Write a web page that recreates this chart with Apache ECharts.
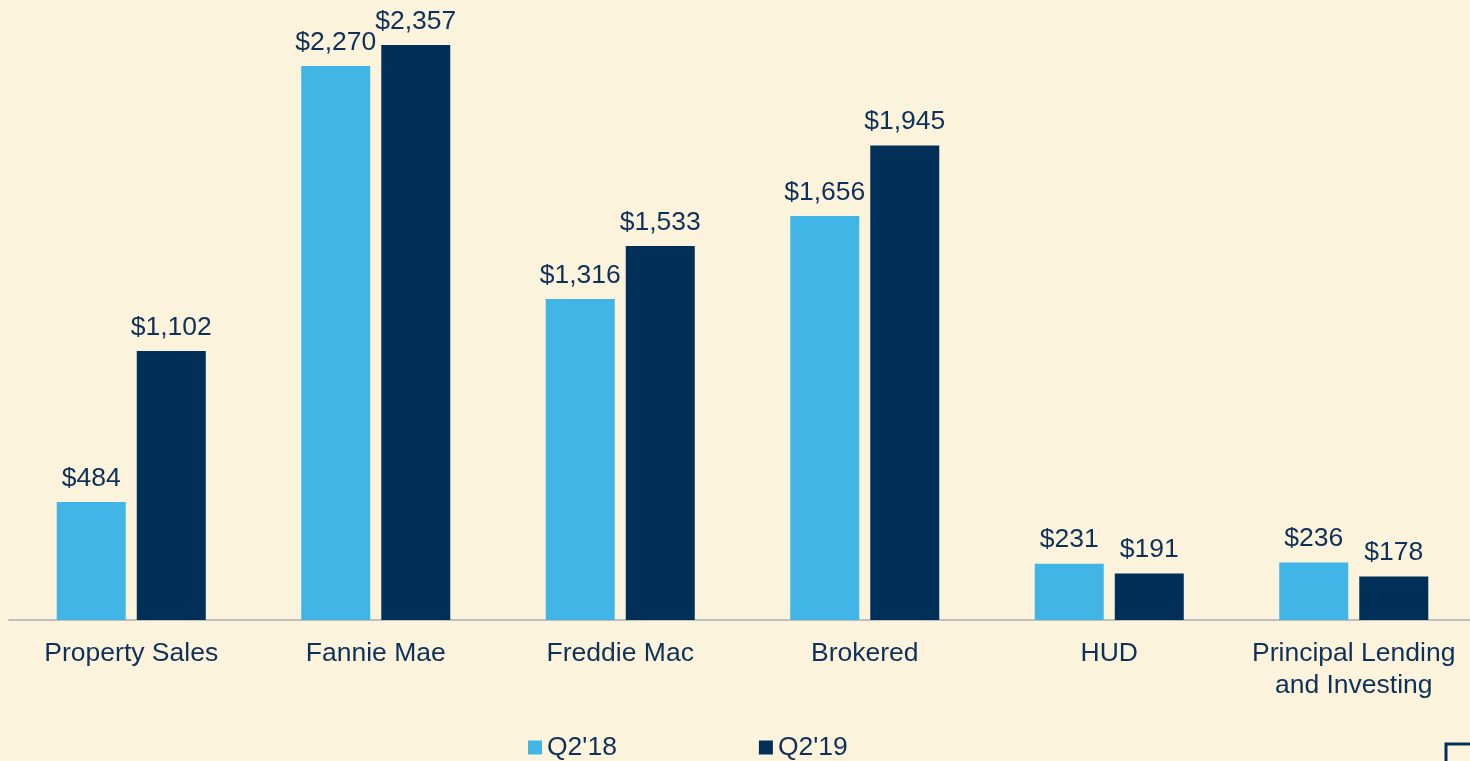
<!DOCTYPE html>
<html>
<head>
<meta charset="utf-8">
<script src="https://cdn.jsdelivr.net/npm/echarts@6/dist/echarts.min.js"></script>
<style>
  html, body { margin: 0; padding: 0; background: #FBF3DC; overflow: hidden; }
  #chart { width: 1470px; height: 761px; }
</style>
</head>
<body>
<div id="chart"></div>
<script>
// data
var categories = ['Property Sales', 'Fannie Mae', 'Freddie Mac', 'Brokered', 'HUD', 'Principal Lending\nand Investing'];
var q218 = [484, 2270, 1316, 1656, 231, 236];
var q219 = [1102, 2357, 1533, 1945, 191, 178];
var seriesNames = ["Q2'18", "Q2'19"];

var textColor = '#0F3057';
var fontFam = '"Liberation Sans", Arial, sans-serif';

function money(p) {
	return '$' + p.value.toLocaleString('en-US');
}

var chart = echarts.init(document.getElementById('chart'));

var labelStyle = {
	show: true,
	position: 'top',
	distance: 10,
	color: textColor,
	fontSize: 26.5,
	fontFamily: fontFam,
	formatter: money
};

chart.setOption({
	backgroundColor: '#FBF3DC',
	animation: false,
	grid: { left: 9, width: 1467, top: 10, bottom: 141, outerBoundsMode: 'none' },
	legend: {
		bottom: -5,
		left: 523,
		itemWidth: 14,
		itemHeight: 14,
		itemGap: 142,
		icon: 'rect',
		textStyle: { color: textColor, fontSize: 26.5, fontFamily: fontFam },
		data: seriesNames
	},
	xAxis: {
		type: 'category',
		data: categories,
		axisLine: { lineStyle: { color: '#BFBFBF', width: 2 } },
		axisTick: { show: false },
		axisLabel: {
			color: textColor,
			fontSize: 26.5,
			fontFamily: fontFam,
			lineHeight: 32,
			margin: 18,
			interval: 0
		}
	},
	yAxis: {
		type: 'value',
		min: 0,
		max: 2500,
		show: false,
		splitLine: { show: false }
	},
	series: [
		{
			name: seriesNames[0],
			type: 'bar',
			data: q218,
			barWidth: 69,
			barGap: '16%',
			itemStyle: { color: '#41B6E6' },
			label: labelStyle
		},
		{
			name: seriesNames[1],
			type: 'bar',
			data: q219,
			barWidth: 69,
			itemStyle: { color: '#003057' },
			label: labelStyle
		}
	],
	graphic: [
		{
			type: 'rect',
			shape: { x: 1446, y: 744, width: 40, height: 40 },
			style: { fill: 'none', stroke: '#003057', lineWidth: 3 }
		}
	]
});
</script>
</body>
</html>
